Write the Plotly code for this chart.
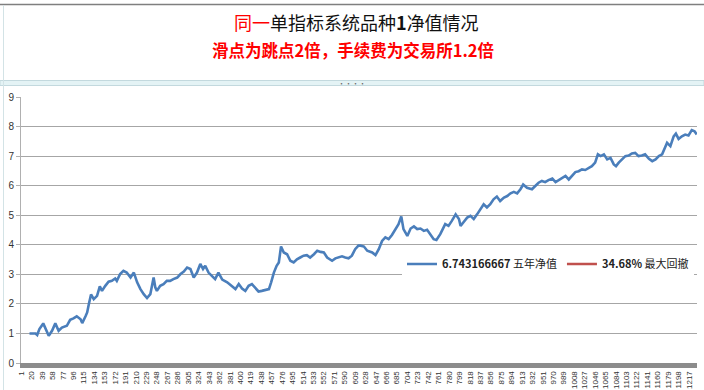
import plotly.graph_objects as go

# ---- data ----
days = [16, 27, 30, 34, 41, 45, 51, 57, 63, 69, 75, 84, 90, 96, 102, 109, 112, 118, 121, 124,
        128, 133, 139, 144, 148, 154, 160, 166, 172, 175, 181, 187, 193, 200, 206, 212, 218, 224, 230, 236,
        242, 245, 248, 254, 260, 266, 272, 278, 285, 291, 297, 303, 309, 315, 321, 327, 332, 336, 342, 348,
        354, 360, 367, 376, 385, 391, 397, 403, 409, 415, 421, 427, 433, 439, 445, 452, 456, 461, 466, 470,
        474, 479, 485, 491, 497, 503, 509, 515, 521, 527, 534, 540, 546, 552, 558, 567, 573, 579, 585, 591,
        597, 603, 609, 615, 619, 625, 631, 640, 646, 652, 658, 664, 670, 676, 682, 688, 693, 697, 704, 710,
        716, 722, 728, 734, 740, 746, 752, 757, 764, 773, 779, 785, 792, 798, 801, 807, 813, 819, 825, 831,
        837, 843, 849, 855, 861, 867, 873, 880, 886, 892, 898, 904, 910, 915, 922, 931, 937, 943, 949, 955,
        961, 968, 974, 980, 986, 992, 998, 1004, 1010, 1016, 1022, 1028, 1034, 1040, 1046, 1051, 1056, 1062, 1068, 1074,
        1080, 1084, 1089, 1095, 1101, 1107, 1113, 1119, 1125, 1131, 1137, 1144, 1150, 1156, 1162, 1168, 1172, 1177, 1183, 1189,
        1193, 1198, 1204, 1210, 1216, 1222, 1227, 1231]
nav = [1.00, 1.00, 0.95, 1.15, 1.34, 1.15, 0.92, 1.09, 1.34, 1.09, 1.20, 1.26, 1.46, 1.51, 1.58, 1.48, 1.35, 1.58, 1.71, 1.99,
       2.32, 2.16, 2.27, 2.59, 2.44, 2.61, 2.75, 2.78, 2.86, 2.78, 3.01, 3.12, 3.06, 2.89, 3.06, 2.73, 2.50, 2.33, 2.20, 2.33,
       2.89, 2.56, 2.44, 2.61, 2.67, 2.78, 2.78, 2.84, 2.89, 3.01, 3.09, 3.23, 3.18, 2.89, 3.06, 3.35, 3.18, 3.29, 3.06, 2.95,
       2.84, 3.06, 2.82, 2.73, 2.61, 2.50, 2.67, 2.52, 2.44, 2.61, 2.67, 2.56, 2.42, 2.44, 2.48, 2.50, 2.73, 3.06, 3.29, 3.40,
       3.94, 3.74, 3.68, 3.46, 3.40, 3.51, 3.57, 3.63, 3.65, 3.57, 3.68, 3.80, 3.76, 3.74, 3.57, 3.46, 3.54, 3.57, 3.61, 3.57,
       3.54, 3.63, 3.85, 3.97, 3.97, 3.94, 3.80, 3.74, 3.65, 3.85, 4.13, 4.25, 4.19, 4.33, 4.53, 4.70, 4.96, 4.53, 4.30, 4.55,
       4.62, 4.53, 4.55, 4.47, 4.51, 4.36, 4.19, 4.16, 4.36, 4.70, 4.64, 4.81, 5.03, 4.87, 4.64, 4.78, 4.92, 4.98, 4.87, 5.03,
       5.20, 5.37, 5.26, 5.37, 5.54, 5.63, 5.48, 5.60, 5.65, 5.74, 5.79, 5.74, 5.88, 6.04, 5.93, 5.88, 5.99, 6.10, 6.16, 6.12,
       6.19, 6.24, 6.12, 6.19, 6.27, 6.33, 6.21, 6.33, 6.46, 6.49, 6.55, 6.53, 6.61, 6.66, 6.78, 7.06, 7.00, 7.06, 6.89, 6.94,
       6.72, 6.66, 6.78, 6.89, 7.00, 7.02, 7.09, 7.11, 7.00, 7.02, 7.06, 6.91, 6.83, 6.89, 7.00, 7.06, 7.22, 7.45, 7.34, 7.67,
       7.76, 7.58, 7.67, 7.73, 7.70, 7.88, 7.84, 7.73]
# the drawdown series holds a single value, so its line is not visible in the plot
drawdown_days = [1]
drawdown = [0.3468]

n_days = 1231
tick_days = list(range(1, n_days + 1, 19))
tick_labels = [str(d) for d in tick_days]
y_ticks = list(range(0, 10))

title1_red = "同一"
title1_rest = "单指标系统品种<b>1</b>净值情况"
title2 = "滑点为跳点<b>2</b>倍，手续费为交易所<b>1.2</b>倍"
name_nav = "<b>6.743166667</b> 五年净值"
name_dd = "<b>34.68%</b> 最大回撤"

CJK = "Noto Sans CJK SC"

fig = go.Figure()
fig.add_trace(go.Scatter(x=days, y=nav, mode="lines", name=name_nav,
                         line=dict(color="#4a7ebb", width=2.6)))
fig.add_trace(go.Scatter(x=drawdown_days, y=drawdown, mode="lines", name=name_dd,
                         line=dict(color="#c0504d", width=2.6)))

L, R, T, B = 21, 7, 97, 27
W, H = 704, 390
pw, ph = W - L - R, H - T - B


def px(xp):
    return (xp - L) / pw


def py(yp):
    return (H - B - yp) / ph


fig.update_layout(
    width=W, height=H,
    margin=dict(l=L, r=R, t=T, b=B),
    paper_bgcolor="white", plot_bgcolor="white",
    font=dict(family=CJK, color="#222222"),
    showlegend=True,
    legend=dict(orientation="h", x=px(694), xanchor="right", y=py(264), yanchor="middle",
                bgcolor="white", font=dict(size=11, color="#222222", family=CJK),
                itemwidth=30, traceorder="normal", tracegroupgap=0),
    xaxis=dict(type="linear", range=[0.5, n_days + 0.5], tickmode="array",
               tickvals=tick_days, ticktext=tick_labels, tickangle=-90,
               tickfont=dict(size=8, color="#333333", family="Liberation Sans"),
               showgrid=False, zeroline=False, showline=True, linecolor="#8c8c8c",
               linewidth=5, ticks="", automargin=False, fixedrange=True),
    yaxis=dict(range=[0, 9], tickmode="array", tickvals=y_ticks,
               tickfont=dict(size=10, color="#333333", family="Liberation Sans"),
               showgrid=True, gridcolor="#a6a6a6", gridwidth=1, zeroline=False,
               showline=True, linecolor="#b0b0b0", linewidth=1,
               ticks="outside", ticklen=4, tickcolor="#b0b0b0", automargin=False),
    shapes=[
        dict(type="line", xref="paper", yref="paper", x0=px(0), x1=px(704), y0=py(4.5), y1=py(4.5),
             line=dict(color="#7f7f7f", width=1.5)),
        dict(type="rect", xref="paper", yref="paper", x0=px(0), x1=px(704), y0=py(85.5), y1=py(80.5),
             fillcolor="#e4f3f5", line=dict(color="#c3d9de", width=1)),
        dict(type="line", xref="paper", yref="paper", x0=px(3.5), x1=px(3.5), y0=py(390), y1=py(5),
             line=dict(color="#d3e3e6", width=1)),
    ],
    annotations=[
        dict(xref="paper", yref="paper", x=px(356), y=py(22), xanchor="center", yanchor="middle",
             text=f"<span style='color:#ff0000'>{title1_red}</span>{title1_rest}",
             showarrow=False, font=dict(size=18, color="#111111", family=CJK)),
        dict(xref="paper", yref="paper", x=px(353), y=py(50), xanchor="center", yanchor="middle",
             text=f"<b>{title2}</b>", showarrow=False,
             font=dict(size=16.5, color="#ff0000", family=CJK)),
        dict(xref="paper", yref="paper", x=px(352), y=py(83), xanchor="center", yanchor="middle",
             text="····", showarrow=False, font=dict(size=7, color="#666666")),
    ],
)

fig.write_html("out.html",
               config={"displayModeBar": False},
               post_script="document.body.style.margin='0';document.body.style.overflow='hidden';")
